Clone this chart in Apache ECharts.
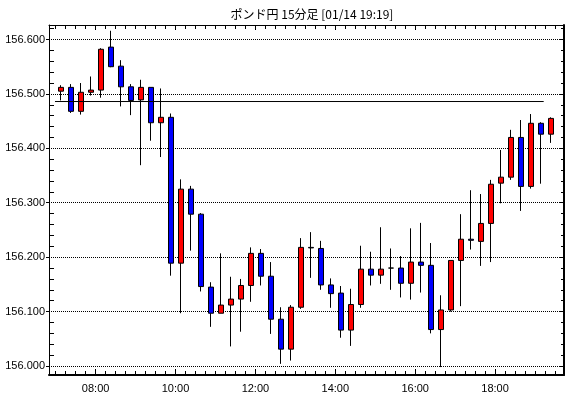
<!DOCTYPE html>
<html lang="ja">
<head>
    <meta charset="UTF-8">
    <title>ポンド円 15分足</title>
    <style>
        * {
            margin: 0;
            padding: 0;
        }

        #main {
            width: 570px;
            height: 398px;
            background-color: #ffffff;
        }
    </style>
    <script src="https://cdn.jsdelivr.net/npm/echarts@6/dist/echarts.min.js"></script>
</head>

<body>
    <div id="main"></div>
    <script>
        // 15分足 07:00 - 19:15
        var times = ['07:00', '07:15', '07:30', '07:45', '08:00', '08:15', '08:30', '08:45',
            '09:00', '09:15', '09:30', '09:45', '10:00', '10:15', '10:30', '10:45',
            '11:00', '11:15', '11:30', '11:45', '12:00', '12:15', '12:30', '12:45',
            '13:00', '13:15', '13:30', '13:45', '14:00', '14:15', '14:30', '14:45',
            '15:00', '15:15', '15:30', '15:45', '16:00', '16:15', '16:30', '16:45',
            '17:00', '17:15', '17:30', '17:45', '18:00', '18:15', '18:30', '18:45',
            '19:00', '19:15'];
        var opens = [156.505, 156.512, 156.468, 156.503, 156.507, 156.586, 156.551, 156.513,
            156.489, 156.512, 156.447, 156.457, 156.189, 156.325, 156.279, 156.145,
            156.097, 156.112, 156.123, 156.148, 156.207, 156.165, 156.086, 156.031,
            156.108, 156.218, 156.216, 156.149, 156.134, 156.066, 156.113, 156.178,
            156.167, 156.180, 156.180, 156.152, 156.191, 156.185, 156.067, 156.103,
            156.194, 156.233, 156.229, 156.262, 156.336, 156.347, 156.420, 156.330,
            156.446, 156.426];
        var closes = [156.512, 156.468, 156.503, 156.507, 156.582, 156.550, 156.513, 156.488,
            156.512, 156.447, 156.457, 156.189, 156.325, 156.279, 156.146, 156.097,
            156.112, 156.123, 156.148, 156.207, 156.165, 156.086, 156.031, 156.108,
            156.218, 156.217, 156.149, 156.133, 156.066, 156.113, 156.178, 156.167,
            156.178, 156.180, 156.152, 156.191, 156.185, 156.067, 156.103, 156.194,
            156.233, 156.231, 156.262, 156.334, 156.347, 156.420, 156.330, 156.446,
            156.426, 156.455];
        var lows = [156.488, 156.465, 156.462, 156.497, 156.493, 156.549, 156.477, 156.461,
            156.369, 156.414, 156.384, 156.166, 156.097, 156.212, 156.137, 156.072,
            156.097, 156.036, 156.063, 156.118, 156.148, 156.059, 156.004, 156.010,
            156.105, 156.162, 156.140, 156.107, 156.052, 156.037, 156.107, 156.148,
            156.151, 156.140, 156.126, 156.122, 156.135, 156.060, 155.998, 156.100,
            156.110, 156.214, 156.184, 156.191, 156.299, 156.342, 156.285, 156.326,
            156.335, 156.410];
        var highs = [156.516, 156.518, 156.520, 156.532, 156.584, 156.616, 156.562, 156.518,
            156.526, 156.512, 156.510, 156.464, 156.343, 156.331, 156.281, 156.154,
            156.207, 156.164, 156.160, 156.218, 156.215, 156.191, 156.108, 156.112,
            156.235, 156.246, 156.230, 156.161, 156.147, 156.142, 156.221, 156.210,
            156.255, 156.216, 156.202, 156.253, 156.263, 156.226, 156.130, 156.194,
            156.279, 156.323, 156.316, 156.342, 156.397, 156.434, 156.452, 156.463,
            156.448, 156.457];

        // 横線 (基準値)
        var refLevel = 156.486;
        var refFrom = '06:59';
        var refTo = '19:13';

        var yMin = 155.9835;
        var yMax = 156.6266;
        var xMin = '06:50';
        var xMax = '19:43.5';

        function toMin(t) {
            var p = t.split(':');
            return parseInt(p[0], 10) * 60 + parseFloat(p[1]);
        }
        function fmtTime(v) {
            var h = Math.floor(v / 60);
            var m = Math.round(v - h * 60);
            return (h < 10 ? '0' : '') + h + ':' + (m < 10 ? '0' : '') + m;
        }

        var font = "'Liberation Sans Narrow', 'Liberation Sans', sans-serif";
        var black = '#000000';

        var chartDom = document.getElementById('main');
        var myChart = echarts.init(chartDom);

        var candleData = opens.map(function (o, i) {
            return [o, closes[i], lows[i], highs[i]];
        });

        var option = {
            animation: false,
            backgroundColor: '#ffffff',
            title: {
                text: 'ポンド円 15分足 [01/14 19:19]',
                left: 307,
                top: 3,
                textAlign: 'center',
                textStyle: {
                    fontFamily: "'Noto Sans CJK JP', sans-serif",
                    fontSize: 12,
                    fontWeight: 'normal',
                    color: black
                }
            },
            grid: [
                { left: 49, top: 25, width: 515, height: 350 },
                { left: 56, top: 25, width: 500, height: 350 }
            ],
            xAxis: [
                {
                    gridIndex: 0,
                    type: 'value',
                    position: 'bottom',
                    min: toMin(xMin),
                    max: toMin(xMax),
                    minInterval: 120,
                    maxInterval: 120,
                    axisLine: { onZero: false, lineStyle: { color: black, width: 2 } },
                    axisTick: { inside: true, length: 6, lineStyle: { color: black } },
                    minorTick: { show: true, splitNumber: 8, length: 4, lineStyle: { color: black, width: 1 } },
                    axisLabel: {
                        formatter: fmtTime,
                        showMinLabel: false,
                        showMaxLabel: false,
                        margin: 8,
                        color: black,
                        fontSize: 11,
                        fontFamily: font
                    },
                    splitLine: { show: false }
                },
                {
                    gridIndex: 0,
                    type: 'value',
                    position: 'top',
                    min: toMin(xMin),
                    max: toMin(xMax),
                    minInterval: 120,
                    maxInterval: 120,
                    axisLine: { onZero: false, lineStyle: { color: black, width: 1 } },
                    axisTick: { inside: true, length: 5, lineStyle: { color: black } },
                    minorTick: { show: true, splitNumber: 8, length: 4, lineStyle: { color: black, width: 1 } },
                    axisLabel: { show: false },
                    splitLine: { show: false }
                },
                {
                    gridIndex: 1,
                    type: 'category',
                    data: times,
                    boundaryGap: true,
                    show: false
                }
            ],
            yAxis: [
                {
                    gridIndex: 0,
                    type: 'value',
                    position: 'left',
                    min: yMin,
                    max: yMax,
                    minInterval: 0.1,
                    maxInterval: 0.1,
                    axisLine: { show: true, onZero: false, lineStyle: { color: black, width: 1 } },
                    axisTick: { show: true, inside: false, length: 3, lineStyle: { color: black } },
                    axisLabel: {
                        formatter: function (v) { return v.toFixed(3); },
                        showMinLabel: false,
                        showMaxLabel: false,
                        margin: 4,
                        color: black,
                        fontSize: 11,
                        fontFamily: font
                    },
                    splitLine: { show: true, lineStyle: { color: black, type: 'dotted', width: 1 } }
                },
                {
                    // 内側の小目盛
                    gridIndex: 0,
                    type: 'value',
                    position: 'left',
                    min: yMin,
                    max: yMax,
                    minInterval: 0.1,
                    maxInterval: 0.1,
                    axisLine: { show: false },
                    axisTick: { show: false, inside: true },
                    minorTick: { show: true, splitNumber: 5, length: 5, lineStyle: { color: black, width: 1 } },
                    axisLabel: { show: false },
                    splitLine: { show: false }
                },
                {
                    gridIndex: 0,
                    type: 'value',
                    position: 'right',
                    min: yMin,
                    max: yMax,
                    minInterval: 0.1,
                    maxInterval: 0.1,
                    axisLine: { show: true, onZero: false, lineStyle: { color: black, width: 2 } },
                    axisTick: { show: true, inside: true, length: 5, lineStyle: { color: black } },
                    minorTick: { show: true, splitNumber: 5, length: 3, lineStyle: { color: black, width: 1 } },
                    axisLabel: { show: false },
                    splitLine: { show: false }
                },
                {
                    gridIndex: 1,
                    type: 'value',
                    min: yMin,
                    max: yMax,
                    show: false,
                    splitLine: { show: false }
                }
            ],
            series: [
                {
                    type: 'candlestick',
                    xAxisIndex: 2,
                    yAxisIndex: 3,
                    barWidth: 6,
                    data: candleData,
                    itemStyle: {
                        color: '#ff0000',
                        color0: '#0000ff',
                        borderColor: black,
                        borderColor0: black,
                        borderWidth: 1
                    },
                    z: 3
                },
                {
                    type: 'line',
                    xAxisIndex: 0,
                    yAxisIndex: 0,
                    symbol: 'none',
                    silent: true,
                    data: [[toMin(refFrom), refLevel], [toMin(refTo), refLevel]],
                    lineStyle: { color: black, width: 1 },
                    z: 4
                }
            ]
        };

        option && myChart.setOption(option);
    </script>
</body>

</html>
